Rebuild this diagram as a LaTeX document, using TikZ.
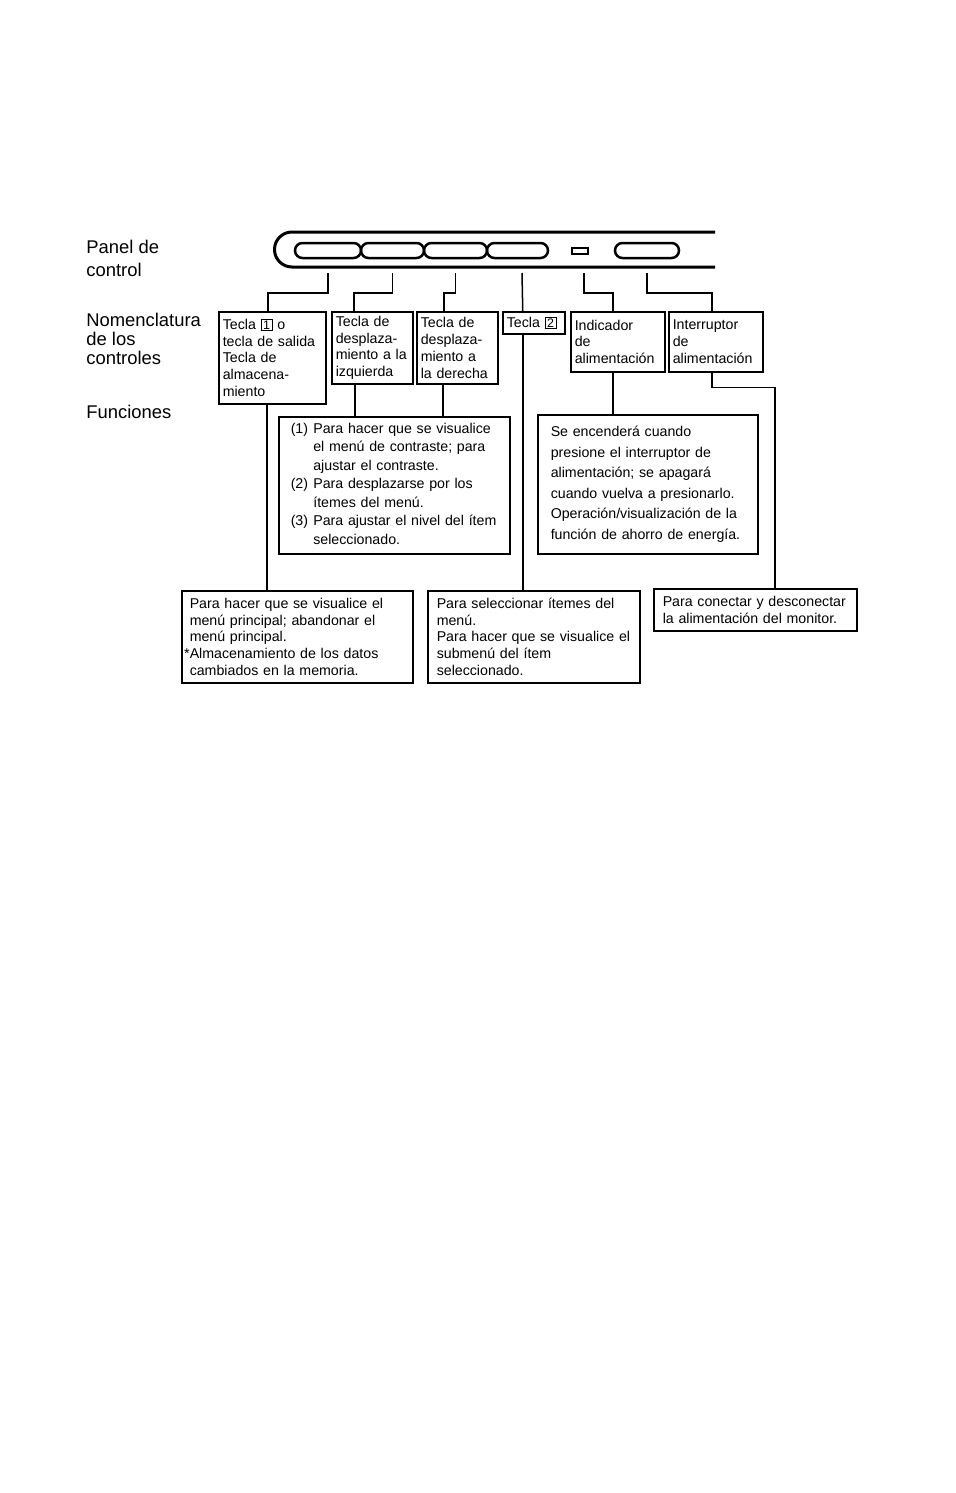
\documentclass[tikz,border=0pt]{standalone}
\usepackage{fontspec}
\setsansfont{Liberation Sans}

\newcommand\keynum[1]{{\setlength\fboxsep{0.3pt}\setlength\fboxrule{0.5pt}\fbox{\makebox[4.4pt]{\fontsize{6.2}{6.2}\selectfont #1}}}}

\begin{document}
\begin{tikzpicture}[x=0.5pt, y=-0.5pt, font=\sffamily,
    box/.style={draw, line width=0.75pt, anchor=north west, align=left, inner xsep=2pt, inner ysep=0pt, font=\sffamily\fontsize{7.1}{8.4}\selectfont},
    wire/.style={line width=0.75pt},
    key/.style={draw, line width=1.25pt, rounded corners=3.75pt, minimum height=7.5pt, inner sep=0pt},
    rowname/.style={anchor=north west, inner sep=0pt, align=left}]
    \useasboundingbox (0,0) rectangle (955,1493);

    \node[rowname, font=\sffamily\fontsize{9.2}{11.5}\selectfont] (lpanel) at (86,240) {Panel de\\control};
    \node[rowname, font=\sffamily\fontsize{9.2}{9.4}\selectfont] (lnames) at (86,313) {Nomenclatura\\de los\\controles};
    \node[rowname, font=\sffamily\fontsize{9.2}{9.4}\selectfont] (lfunc) at (86,405) {Funciones};

    \draw[line width=1.5pt] (715,232) -- (292,232) arc[start angle=270, end angle=90, radius=17.5] -- (715,267);
    \node[key, minimum width=33pt] (k1) at (328,250.5) {};
    \node[key, minimum width=31.5pt] (k2) at (392.5,250.5) {};
    \node[key, minimum width=31.5pt] (k3) at (455.5,250.5) {};
    \node[key, minimum width=30.5pt] (k4) at (517.5,250.5) {};
    \node[draw, line width=1.1pt, minimum width=8pt, minimum height=3pt, inner sep=0pt] (led) at (580,251) {};
    \node[key, minimum width=32pt] (k5) at (647,250.5) {};
    \coordinate (pb) at (0,273);

    \node[box, text width=49.5pt, minimum height=46pt] (nom1) at (218,311) {Tecla \keynum{1} o\\tecla de salida\\Tecla de\\almacena-\\miento};
    \node[box, text width=36.5pt, minimum height=36pt] (nom2) at (331,311) {Tecla de\\desplaza-\\miento a la\\izquierda};
    \node[box, text width=36.5pt, minimum height=36pt] (nom3) at (416,311) {Tecla de\\desplaza-\\miento a\\la derecha};
    \node[box, text width=27pt, minimum height=11pt] (nom4) at (502,311) {Tecla \keynum{2}};
    \node[box, text width=43pt, minimum height=30pt] (nom5) at (570,311) {Indicador\\de\\alimentación};
    \node[box, text width=43pt, minimum height=30pt] (nom6) at (668,311) {Interruptor\\de\\alimentación};

    \node[box, inner xsep=6pt, text width=103.5pt, minimum height=68.5pt, font=\sffamily\fontsize{7.1}{9.25}\selectfont] (fun1) at (278,416) {%
        \begin{tabular}{@{}l@{\hspace{2.6pt}}l@{}}
        (1) & Para hacer que se visualice\\
            & el menú de contraste; para\\
            & ajustar el contraste.\\
        (2) & Para desplazarse por los\\
            & ítemes del menú.\\
        (3) & Para ajustar el nivel del ítem\\
            & seleccionado.
        \end{tabular}};
    \node[box, inner xsep=6.5pt, text width=97pt, minimum height=69.5pt, font=\sffamily\fontsize{7.1}{10.3}\selectfont] (fun2) at (537,414) {Se encenderá cuando\\presione el interruptor de\\alimentación; se apagará\\cuando vuelva a presionarlo.\\Operación/visualización de la\\función de ahorro de energía.};

    \node[box, inner xsep=4pt, text width=107.5pt, minimum height=46pt] (bot1) at (181,590) {Para hacer que se visualice el\\menú principal; abandonar el\\menú principal.\\\leavevmode\llap{*}Almacenamiento de los datos\\cambiados en la memoria.};
    \node[box, inner xsep=4.5pt, text width=97pt, minimum height=46pt] (bot2) at (427,590) {Para seleccionar ítemes del\\menú.\\Para hacer que se visualice el\\submenú del ítem\\seleccionado.};
    \node[box, inner xsep=4.5pt, text width=92.5pt, minimum height=21pt] (bot3) at (653,588) {Para conectar y desconectar\\la alimentación del monitor.};

    \draw[wire] (k1 |- pb) -- ++(0,20) -| ([xshift=25pt]nom1.north west);
    \draw[wire] (k2 |- pb) -- ++(0,20) -| ([xshift=11.5pt]nom2.north west);
    \draw[wire] (k3 |- pb) -- ++(0,20) -| ([xshift=14pt]nom3.north west);
    \draw[wire] ([xshift=2.25pt]k4 |- pb) -- ([xshift=-5.5pt]nom4.north);
    \draw[wire] ([xshift=2pt]led |- pb) -- ++(0,20) -| ([xshift=21.5pt]nom5.north west);
    \draw[wire] (k5 |- pb) -- ++(0,20) -| ([xshift=22pt]nom6.north west);

    \draw[wire] ([xshift=24.5pt]nom1.south west) -- ([xshift=24.5pt]nom1.south west |- bot1.north);
    \draw[wire] ([xshift=12pt]nom2.south west) -- ([xshift=12pt]nom2.south west |- fun1.north);
    \draw[wire] ([xshift=13.5pt]nom3.south west) -- ([xshift=13.5pt]nom3.south west |- fun1.north);
    \draw[wire] ([xshift=-5.5pt]nom4.south) -- ([xshift=-5.5pt]nom4.south |- bot2.north);
    \draw[wire] ([xshift=21.5pt]nom5.south west) -- ([xshift=21.5pt]nom5.south west |- fun2.north);
    \draw[wire] ([xshift=22pt]nom6.south west) -- ++(0,15) -| ([xshift=61pt]bot3.north west);
\end{tikzpicture}
\end{document}
